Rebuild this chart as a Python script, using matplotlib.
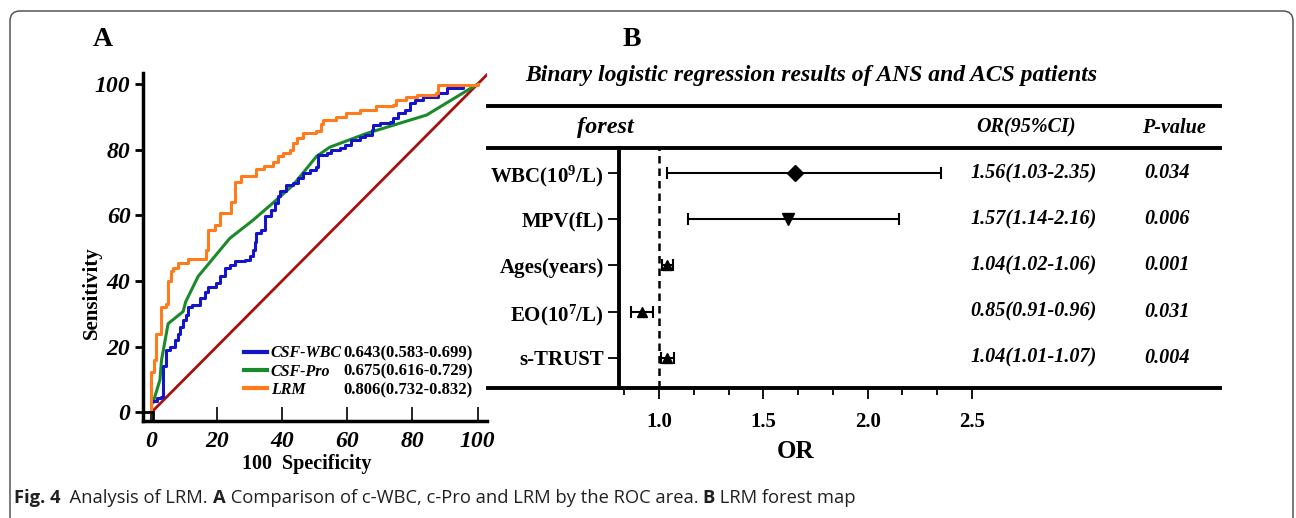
import matplotlib
matplotlib.use("Agg")
import matplotlib.pyplot as plt
from matplotlib.lines import Line2D
from matplotlib.patches import FancyBboxPatch, Rectangle
from matplotlib.transforms import IdentityTransform

plt.rcParams['font.family'] = ['Liberation Serif', 'DejaVu Serif']
plt.rcParams['mathtext.fontset'] = 'custom'
plt.rcParams['mathtext.rm'] = 'Liberation Serif:bold'
plt.rcParams['mathtext.it'] = 'Liberation Serif:bold:italic'
plt.rcParams['mathtext.bf'] = 'Liberation Serif:bold'

# ---- panel A: ROC curves ----
lrm_x = [0, 0, 0.8, 1.5, 2.9, 4.5, 5.1, 6, 6.7, 8.2, 11.3, 16.6, 17.2, 19.4, 21, 24.5, 25.6,
         27.6, 32, 34.4, 37.3, 38.8, 40.4, 42.4, 43.5, 44.5, 46.5, 50.6, 52, 52.6, 56.7, 59.8,
         63.9, 69, 74, 75.1, 78.2, 81.3, 87.4, 87.9, 99.7, 100]
lrm_y = [0, 12.4, 16, 24, 32, 33, 40, 43, 44, 45.5, 46.6, 49.5, 55.6, 57, 60.7, 64, 70.3,
         72, 74, 75, 76.4, 78, 79, 80, 82, 83.5, 85, 85.6, 88, 89, 90.1, 91.2,
         92.2, 93.2, 93.7, 95.2, 96.2, 96.7, 97.3, 99.8, 99.8, 100]

wbc_x = [0.8, 1.6, 3, 3.6, 4.6, 5.6, 7.2, 8.2, 8.7, 9.7, 10.7, 11.2, 12.3, 14.8, 16.4, 17.4,
         19.9, 21, 22.5, 24, 25.6, 28.6, 30.2, 31.2, 31.7, 32.2, 33.7, 34.8, 36.8, 37.8, 38.9,
         39.4, 41.4, 43.5, 45, 46.5, 48.6, 50.6, 51.1, 53.7, 55.2, 57.8, 59.3, 61.3, 63.9,
         65.4, 67.5, 68, 70, 73.1, 74.1, 75.7, 77.7, 79.2, 80.8, 83.3, 87.9, 90.5, 95.6]
wbc_y = [3.3, 4.3, 4.8, 14, 19, 20, 22, 24, 26, 28, 29.7, 32.2, 32.7, 34.8, 36.8, 38.3,
         39.3, 41.4, 43.9, 44.9, 46, 46.4, 47.5, 49.5, 52, 54.6, 55.6, 59.7, 61.7, 63.7, 65.8,
         67.3, 69.3, 69.8, 71.3, 72.9, 73.9, 74.9, 78.5, 79, 80, 80.5, 81.5, 83, 84,
         84.6, 86, 87.6, 88.1, 88.6, 89.6, 91.2, 92.2, 94.2, 95.2, 96.2, 97.3, 98.8, 99]

pro_x = [0.5, 2.6, 3.1, 5.1, 7.2, 9.7, 10.5, 14.3, 24, 31.2, 38.3, 43.5, 50.6, 54.7, 66, 84.4, 100]
pro_y = [3, 9.9, 16, 27, 28.7, 30.7, 33.7, 41.4, 53, 58.6, 64.7, 69.3, 78, 80.8, 85, 90.6, 100]

roc_names = ["CSF-WBC", "CSF-Pro", "LRM"]
roc_auc = ["0.643(0.583-0.699)", "0.675(0.616-0.729)", "0.806(0.732-0.832)"]

# ---- panel B: forest plot ----
vars_b = [r"WBC(10$^{\mathrm{9}}$/L)", "MPV(fL)", "Ages(years)", r"EO(10$^{\mathrm{7}}$/L)", "s-TRUST"]
or_est = [1.65, 1.62, 1.04, 0.92, 1.04]
ci_low = [1.037, 1.14, 1.016, 0.864, 1.008]
ci_high = [2.35, 2.15, 1.066, 0.973, 1.072]
markers = ["D", "v", "^", "^", "^"]
or_text = ["1.56(1.03-2.35)", "1.57(1.14-2.16)", "1.04(1.02-1.06)", "0.85(0.91-0.96)", "1.04(1.01-1.07)"]
p_text = ["0.034", "0.006", "0.001", "0.031", "0.004"]

W, H = 1296, 518
fig = plt.figure(figsize=(W / 100, H / 100), dpi=100)


def fx(px):
    return px / W


def fy(py):
    return 1 - py / H


# rounded frame
frame = FancyBboxPatch((10, -12), 1283, 519, boxstyle="round,pad=0,rounding_size=10",
                       fill=False, ec="#555555", lw=1.1, transform=IdentityTransform())
fig.add_artist(frame)

# ================= A =================
axA = fig.add_axes([fx(143), fy(421), fx(487 - 143), (421 - 73) / H])
axA.plot([0, 103], [0, 103], color="#a81010", lw=2, zorder=2)
axA.plot(pro_x, pro_y, color="#1a8a2a", lw=2.2, zorder=3)
axA.plot(wbc_x, wbc_y, color="#1414c8", lw=2.2, drawstyle="steps-post", zorder=4)
axA.plot(lrm_x, lrm_y, color="#ff7b1c", lw=2.2, drawstyle="steps-post", zorder=5)
axA.add_patch(Rectangle((-2.6, -2.6), 3.2, 2.6, fill=False, ec="black", lw=2, clip_on=False, zorder=6))
axA.set_xlim(-2.6, 102.9)
axA.set_ylim(-2.65, 103.4)
for s in ["top", "right"]:
    axA.spines[s].set_visible(False)
for s in ["left", "bottom"]:
    axA.spines[s].set_linewidth(2.5)
axA.set_xticks([0, 20, 40, 60, 80, 100])
axA.set_yticks([0, 20, 40, 60, 80, 100])
axA.tick_params(axis="x", direction="in", length=10, width=1.2, pad=7)
axA.tick_params(axis="y", direction="out", length=6, width=2, pad=3)
for lab in axA.get_xticklabels() + axA.get_yticklabels():
    lab.set_fontsize(17)
    lab.set_fontweight("bold")
    lab.set_fontstyle("italic")
axA.set_xlabel("100  Specificity", fontsize=14.5, fontweight="bold")
axA.xaxis.set_label_coords(0.476, -0.095)
axA.set_ylabel("Sensitivity", fontsize=15, fontweight="bold")
axA.yaxis.set_label_coords(-0.12, 0.368)

handles = [Line2D([], [], color=c, lw=3) for c in ["#1414c8", "#1a8a2a", "#ff7b1c"]]
leg = axA.legend(handles, roc_names, loc="upper left", bbox_to_anchor=(0.293, 0.218),
                 frameon=False, handlelength=1.45, handletextpad=0.25, labelspacing=0.15,
                 borderpad=0, borderaxespad=0,
                 prop={"family": "Liberation Serif", "weight": "bold", "style": "italic", "size": 11.5})

fig.text(fx(103), fy(40), "A", fontsize=20, fontweight="bold", ha="center", va="center")
fig.text(fx(632), fy(40), "B", fontsize=20, fontweight="bold", ha="center", va="center")

# ================= B =================
axB = fig.add_axes([fx(619), fy(388), fx(1220 - 619), 240 / H])
rows = list(range(len(vars_b)))
for i in rows:
    axB.errorbar(or_est[i], i, xerr=[[or_est[i] - ci_low[i]], [ci_high[i] - or_est[i]]],
                 fmt=markers[i], color="black", ms=8 if i < 2 else 6.5,
                 elinewidth=1.5, capsize=4.5, capthick=1.5)
axB.axvline(1.0, color="black", lw=1.8, ls=(0, (3, 2)))
axB.set_xlim(0.808, 3.689)
axB.set_ylim(4.66, -0.55)
axB.spines["right"].set_visible(False)
for s in ["left", "top", "bottom"]:
    axB.spines[s].set_linewidth(2.8)
axB.set_xticks([1.0, 1.5, 2.0, 2.5])
axB.set_xticklabels(["1.0", "1.5", "2.0", "2.5"])
axB.set_xticks([5 / 6, 7 / 6, 4 / 3, 5 / 3, 11 / 6, 13 / 6, 7 / 3], minor=True)
axB.tick_params(axis="x", which="major", direction="out", length=8, width=1.3, pad=9)
axB.tick_params(axis="x", which="minor", direction="out", length=5, width=1.3)
axB.set_yticks(rows)
axB.set_yticklabels(vars_b)
axB.tick_params(axis="y", direction="out", length=8, width=1.3, pad=3)
for lab in axB.get_xticklabels() + axB.get_yticklabels():
    lab.set_fontsize(15)
    lab.set_fontweight("bold")
axB.set_xlabel("OR", fontsize=18, fontweight="bold")
axB.xaxis.set_label_coords(0.293, -0.215)

cell = dict(fontsize=14.5, fontweight="bold", fontstyle="italic", va="center", transform=axB.transAxes)
for i in rows:
    yy = (4.66 - i) / (4.66 + 0.55)
    axB.text(0.69, yy, or_text[i], ha="center", **cell)
    axB.text(0.912, yy, p_text[i], ha="center", **cell)
axB.text(0.677, 1.085, "OR(95%CI)", ha="center", **cell)
axB.text(0.924, 1.085, "P-value", ha="center", **cell)
axB.text(-0.022, 1.085, "forest", ha="center", fontsize=17.5, fontweight="bold", fontstyle="italic",
         va="center", transform=axB.transAxes)

# table rules
for y0 in [106, 148, 388]:
    fig.add_artist(Line2D([fx(488), fx(1220) if y0 == 106 else fx(620)], [fy(y0), fy(y0)],
                          color="black", lw=2.8))

fig.text(fx(811), fy(76), "Binary logistic regression results of ANS and ACS patients",
         fontsize=17, fontweight="bold", fontstyle="italic", ha="center", va="center")

# values next to the legend, aligned with its rows
fig.canvas.draw()
renderer = fig.canvas.get_renderer()
for t, val in zip(leg.get_texts(), roc_auc):
    bb = t.get_window_extent(renderer)
    fig.text(fx(343), (bb.y0 + bb.y1) / 2 / H, val, fontsize=12, fontweight="bold", va="center")

# caption, built piece by piece
pieces = [("Fig. 4", "bold"), ("  Analysis of LRM. ", "normal"), ("A", "bold"),
          (" Comparison of c-WBC, c-Pro and LRM by the ROC area. ", "normal"), ("B", "bold"),
          (" LRM forest map", "normal")]
xpos = 14
for txt, wt in pieces:
    t = fig.text(fx(xpos), fy(503), txt, fontsize=13.2, fontweight=wt, color="#231f20",
                 family=["Open Sans", "DejaVu Sans"], va="baseline")
    bb = t.get_window_extent(renderer)
    xpos += bb.width

fig.savefig("out.png", dpi=100)
